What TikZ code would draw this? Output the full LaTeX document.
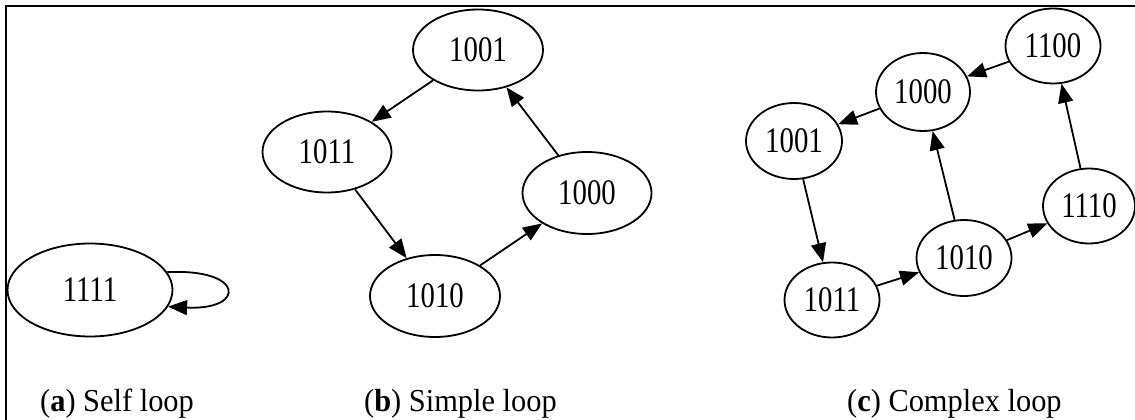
\documentclass[tikz,border=0pt]{standalone}
\usepackage{fontspec}
\setmainfont{Liberation Serif}[FakeStretch=0.95]
\newfontfamily\statefont{Liberation Serif}[FakeStretch=0.8]
\usepackage{tikz}
\usetikzlibrary{shapes.geometric,arrows.meta}

\begin{document}
\begin{tikzpicture}[x=1pt,y=-1pt,
        state/.style={draw,ellipse,line width=1.8pt,inner sep=0pt,font=\statefont\fontsize{36}{40}\selectfont},
        edge/.style={line width=1.8pt,-{Triangle[length=19pt,width=15pt]}},
        caption/.style={anchor=base west,inner sep=0pt,font=\fontsize{32}{36}\selectfont}]
    \useasboundingbox (0,0) rectangle (1135,420);
    \draw[line width=2pt] (1135,6) -- (6,6) -- (6,420);
    % (a)
    \node[state,minimum width=165pt,minimum height=93pt] (a1111) at (90,290) {1111};
    \draw[edge] (a1111.13) .. controls +(78,-4) and +(78,4) .. (a1111.-12);
    % (b)
    \node[state,minimum width=130pt,minimum height=81pt] (b1001) at (478,50) {1001};
    \node[state,minimum width=129pt,minimum height=81pt] (b1011) at (327,152) {1011};
    \node[state,minimum width=129pt,minimum height=82pt] (b1000) at (587,193) {1000};
    \node[state,minimum width=130pt,minimum height=82pt] (b1010) at (435,296) {1010};
    \draw[edge] (b1001) -- (b1011);
    \draw[edge] (b1011) -- (b1010);
    \draw[edge] (b1010) -- (b1000);
    \draw[edge] (b1000) -- (b1001);
    % (c)
    \node[state,minimum width=95pt,minimum height=75pt] (c1100) at (1053,46) {1100};
    \node[state,minimum width=94pt,minimum height=78pt] (c1000) at (923,92) {1000};
    \node[state,minimum width=96pt,minimum height=76pt] (c1001) at (794,141) {1001};
    \node[state,minimum width=92pt,minimum height=75pt] (c1110) at (1089,206) {1110};
    \node[state,minimum width=95pt,minimum height=76pt] (c1010) at (964,258) {1010};
    \node[state,minimum width=95pt,minimum height=75pt] (c1011) at (832,300) {1011};
    \draw[edge] (c1100) -- (c1000);
    \draw[edge] (c1000) -- (c1001);
    \draw[edge] (c1001) -- (c1011);
    \draw[edge] (c1011) -- (c1010);
    \draw[edge] (c1010) -- (c1000);
    \draw[edge] (c1010) -- (c1110);
    \draw[edge] (c1110) -- (c1100);
    % captions
    \node[caption] (capa) at (40,411) {(\textbf{a}) Self loop};
    \node[caption] (capb) at (364,411) {(\textbf{b}) Simple loop};
    \node[caption] (capc) at (847,411) {(\textbf{c}) Complex loop};
\end{tikzpicture}
\end{document}
